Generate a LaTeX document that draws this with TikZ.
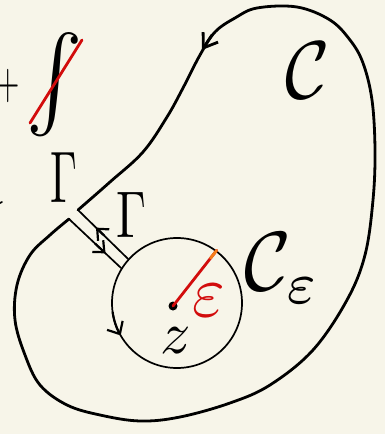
\documentclass[tikz,border=0pt]{standalone}
\usepackage{graphicx}
\usepackage{amsmath,amssymb}
\usetikzlibrary{arrows.meta}
\definecolor{paper}{RGB}{247,245,233}
\definecolor{inkred}{RGB}{210,12,12}
\definecolor{inkorange}{RGB}{245,125,25}
\newcommand{\fsz}[3]{\scalebox{#1}[#2]{#3}}
\tikzset{
  hand/.style={line width=2.8pt, line cap=round, line join=round},
  thinhand/.style={line width=1.7pt, line cap=round, line join=round},
  lbl/.style={inner sep=0pt, outer sep=0pt},
}
\begin{document}
\begin{tikzpicture}[x=1pt, y=-1pt]
    % Paper
    \fill[paper] (0,0) rectangle (385,434);
    \useasboundingbox (0,0) rectangle (385,434);

    % Outer contour C
    \coordinate (kUo) at (78,210);
    \coordinate (kLo) at (69,219);
    \draw[hand] plot[smooth, tension=0.6] coordinates {
        (kUo) (110,182) (143,152) (167,117) (183,88) (200,55) (215,32)
        (235,18) (257,8) (297,7) (330,20) (350,40) (363,63) (372,100)
        (375,150) (373,200) (365,255) (347,300) (313,350) (270,385)
        (230,403) (180,417) (140,421) (100,415) (67,405) (40,385)
        (25,355) (15,320) (17,285) (30,255) (50,235) (kLo)};
    \coordinate (oa1) at (212,35);
    \coordinate (oa2) at (202,50);
    \draw[hand, -{Straight Barb[length=13pt,width=18pt]}] (oa1) -- (oa2);

    % Small circle C_eps
    \node[circle, draw, thinhand, minimum size=130pt] (disk) at (177,303) {};
    \draw[thinhand, line width=2.2pt, -{Straight Barb[length=10pt,width=18pt]}]
        (112.6,312) arc[start angle=172, end angle=150, radius=65];

    % Keyhole cut
    \draw[thinhand] (kUo) -- (disk.138.7);
    \draw[thinhand] (kLo) -- (disk.148.5);
    \path (kUo) -- (disk.138.7) coordinate[pos=0.52] (ka1) coordinate[pos=0.36] (ka2);
    \path (kLo) -- (disk.148.5) coordinate[pos=0.5] (kb1) coordinate[pos=0.7] (kb2);
    \draw[thinhand, line width=2.2pt, -{Straight Barb[length=9pt,width=16pt]}] (ka1) -- (ka2);
    \draw[thinhand, line width=2.2pt, -{Straight Barb[length=9pt,width=16pt]}] (kb1) -- (kb2);

    % Point z and radius eps
    \node[circle, fill, inner sep=0pt, minimum size=9pt] (zdot) at (173,306) {};
    \draw[hand, inkred] (zdot.center) -- (disk.53);
    \path (zdot.center) -- (disk.53) coordinate[pos=0.86] (rtip);
    \draw[hand, inkorange] (rtip) -- (disk.53);
    \node[lbl, inkred] (eps) at (209,301) {\fsz{7}{7.4}{$\varepsilon$}};
    \node[lbl] (zlbl) at (176,341) {\fsz{6}{6}{$z$}};

    % Labels
    \node[lbl] (gamOut) at (64,178) {\fsz{4.3}{7.3}{$\Gamma$}};
    \node[lbl] (gamIn) at (131,215) {\fsz{4.8}{6.6}{$\Gamma$}};
    \node[lbl] (cOut) at (308,70) {\fsz{7.6}{8.2}{$\mathcal{C}$}};
    \node[lbl] (cEps) at (283,268) {\fsz{8}{8.4}{$\mathcal{C}_{\varepsilon}$}};

    % Crossed-out integral
    \node[lbl] (plus) at (8,86) {\fsz{3}{5}{$+$}};
    \node[lbl] (intg) at (55,108.5) {\fsz{8.5}{9.4}{$\smash{\int}$}};
    \coordinate (sl1) at (30,123);
    \coordinate (sl2) at (82,40);
    \draw[hand, inkred] (sl1) -- (sl2);
    \coordinate (tk1) at (-4,205);
    \coordinate (tk2) at (2,202);
    \draw[thinhand] (tk1) -- (tk2);
\end{tikzpicture}
\end{document}
